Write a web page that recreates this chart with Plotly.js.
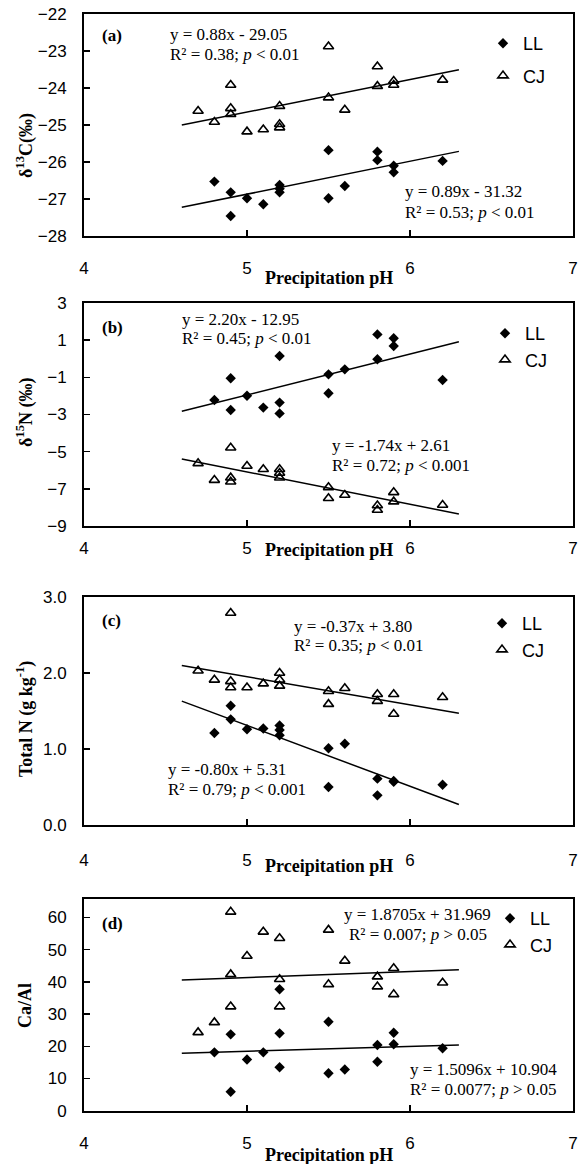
<!DOCTYPE html>
<html><head><meta charset="utf-8">
<script src="https://cdn.plot.ly/plotly-3.0.1.min.js"></script>
<style>html,body{margin:0;padding:0;background:#fff}#chart{width:582px;height:1164px}</style>
</head><body><div id="chart"></div>
<script>
// ---- data ----
const seriesNames = ['LL', 'CJ'];
const xTicks = [4, 5, 6, 7];
const phLL = [4.8, 4.9, 4.9, 5.0, 5.1, 5.2, 5.2, 5.2, 5.5, 5.5, 5.6, 5.8, 5.8, 5.9, 5.9, 6.2];
const phCJ = [4.7, 4.8, 4.9, 4.9, 4.9, 5.0, 5.1, 5.2, 5.2, 5.2, 5.5, 5.5, 5.6, 5.8, 5.8, 5.9, 5.9, 6.2];

const d13C_LL = [-26.53, -26.82, -27.46, -26.98, -27.14, -26.62, -26.72, -26.82, -25.68, -26.98, -26.65, -25.72, -25.95, -26.10, -26.28, -25.97];
const d13C_CJ = [-24.62, -24.92, -23.92, -24.55, -24.71, -25.18, -25.12, -24.49, -24.98, -25.07, -22.88, -24.26, -24.59, -23.42, -23.95, -23.81, -23.92, -23.78];

const d15N_LL = [-2.22, -1.05, -2.76, -1.99, -2.63, 0.15, -2.36, -2.94, -0.84, -1.86, -0.57, 1.31, -0.03, 1.10, 0.69, -1.14];
const d15N_CJ = [-5.63, -6.53, -4.79, -6.40, -6.62, -5.77, -5.95, -5.95, -6.15, -6.40, -6.92, -7.51, -7.33, -7.90, -8.14, -7.19, -7.69, -7.87];

const totalN_LL = [1.21, 1.57, 1.39, 1.26, 1.27, 1.31, 1.25, 1.18, 1.01, 0.50, 1.07, 0.61, 0.39, 0.57, 0.58, 0.53];
const totalN_CJ = [2.03, 1.91, 2.79, 1.89, 1.81, 1.81, 1.86, 2.00, 1.91, 1.83, 1.76, 1.59, 1.80, 1.72, 1.63, 1.72, 1.46, 1.68];

const caAl_LL = [18.1, 23.7, 5.9, 15.9, 18.1, 37.7, 24.0, 13.5, 27.6, 11.6, 12.8, 20.4, 15.2, 24.2, 20.6, 19.4];
const caAl_CJ = [24.3, 27.4, 61.7, 42.3, 32.3, 48.0, 55.5, 53.5, 40.8, 32.3, 56.1, 39.2, 46.5, 41.6, 38.5, 44.2, 36.1, 39.7];

// regression fits (slope, intercept) as printed on the chart, drawn over pH 4.6–6.3
const fitRange = [4.6, 6.3];
const fitLL = [[0.89, -31.32], [2.20, -12.95], [-0.80, 5.31], [1.5096, 10.904]];
const fitCJ = [[0.88, -29.05], [-1.74, 2.61], [-0.37, 3.80], [1.8705, 31.969]];

const panelLabels = ['(a)', '(b)', '(c)', '(d)'];
const yTitles = ['δ<sup>13</sup>C(‰)', 'δ<sup>15</sup>N (‰)', 'Total N (g kg<sup>-1</sup>)', 'Ca/Al'];
const xTitles = ['Precipitation pH', 'Precipitation pH', 'Prceipitation pH', 'Precipitation pH'];
const eqLL = [['y = 0.89x - 31.32', 'R² = 0.53; <i>p</i> &lt; 0.01'],
              ['y = 2.20x - 12.95', 'R² = 0.45; <i>p</i> &lt; 0.01'],
              ['y = -0.80x + 5.31', 'R² = 0.79; <i>p</i> &lt; 0.001'],
              ['y = 1.5096x + 10.904', 'R² = 0.0077; <i>p</i> &gt; 0.05']];
const eqCJ = [['y = 0.88x - 29.05', 'R² = 0.38; <i>p</i> &lt; 0.01'],
              ['y = -1.74x + 2.61', 'R² = 0.72; <i>p</i> &lt; 0.001'],
              ['y = -0.37x + 3.80', 'R² = 0.35; <i>p</i> &lt; 0.01'],
              ['y = 1.8705x + 31.969', 'R² = 0.007; <i>p</i> &gt; 0.05']];

const valuesLL = [d13C_LL, d15N_LL, totalN_LL, caAl_LL];
const valuesCJ = [d13C_CJ, d15N_CJ, totalN_CJ, caAl_CJ];

// ---- layout geometry (pixels) ----
const W = 582, H = 1164;
const SERIF = 'Liberation Serif, Times New Roman, serif';
const SANS = 'Liberation Sans, Arial, Helvetica, sans-serif';
const frames = [[14, 236], [303, 526], [597, 825], [899.3, 1110.7]];
const yRanges = [[-28, -22], [-9, 3], [0, 3], [0, 65.6]];
const yDticks = [1, 2, 1, 10];
const yTick0 = [-28, -9, 0, 0];
const yFormats = ['', '', '.1f', ''];
const xStandoff = [16, 6, 19, 16];
const xTitleY = [278, 550, 866, 1155];
const yTitleY = [146, 413, 719, 1006];
const labelY = [35, 327, 620, 923];
const eqCJpos = [[168, 34, 168, 54], [330, 446, 330, 465], [292, 626, 292, 645], [342, 914, 347, 934]];
const eqLLpos = [[403, 192, 403, 212], [180, 319, 180, 338], [166, 769, 166, 789], [408, 1069, 408, 1089]];
const legendTop = [25, 315, 605, 900];
const legendX = [483, 485, 482, 490];
const legendGap = [6, 0, 0, 0];

const px = v => v / W, py = v => 1 - v / H;

const data = [];
const layout = {
  width: W, height: H,
  margin: {l: 0, r: 0, t: 0, b: 0},
  paper_bgcolor: '#fff', plot_bgcolor: '#fff',
  showlegend: true,
  annotations: []
};

function ann(text, x, y, font, extra) {
  return Object.assign({xref: 'paper', yref: 'paper', x: px(x), y: py(y), xanchor: 'left', yanchor: 'middle',
    showarrow: false, text: text, font: Object.assign({family: SERIF, size: 17, color: '#000'}, font || {})}, extra || {});
}

for (let i = 0; i < 4; i++) {
  const n = i === 0 ? '' : String(i + 1);
  const xa = 'x' + n, ya = 'y' + n;
  const leg = 'legend' + n;
  data.push({
    type: 'scatter', mode: 'markers', x: phLL, y: valuesLL[i], xaxis: xa, yaxis: ya,
    name: seriesNames[0], legend: leg, legendgroup: 'll' + i,
    marker: {symbol: 'diamond', size: 8, color: '#000'}
  });
  data.push({
    type: 'scatter', mode: 'markers', x: phCJ, y: valuesCJ[i], xaxis: xa, yaxis: ya,
    name: seriesNames[1], legend: leg, legendgroup: 'cj' + i,
    marker: {symbol: 'triangle-up-open', size: 9, color: '#000', line: {width: 1.6, color: '#000'}}
  });
  [fitLL[i], fitCJ[i]].forEach(f => {
    data.push({
      type: 'scatter', mode: 'lines', x: fitRange, y: fitRange.map(v => f[0] * v + f[1]),
      xaxis: xa, yaxis: ya, showlegend: false, hoverinfo: 'skip',
      line: {color: '#000', width: 1.5}
    });
  });

  const fr = frames[i];
  layout['xaxis' + n] = {
    domain: [px(84), px(573)], anchor: ya, range: [4, 7], tickvals: xTicks,
    ticks: 'inside', ticklen: 6, tickwidth: 1.5, tickcolor: '#000',
    showline: true, linecolor: '#000', linewidth: 2, mirror: true,
    showgrid: false, zeroline: false, ticklabelstandoff: xStandoff[i],
    tickfont: {family: SANS, size: 17, color: '#000'}
  };
  layout['yaxis' + n] = {
    domain: [py(fr[1]), py(fr[0])], anchor: xa, range: yRanges[i],
    tick0: yTick0[i], dtick: yDticks[i], tickformat: yFormats[i],
    ticks: 'inside', ticklen: 6, tickwidth: 1.5, tickcolor: '#000',
    showline: true, linecolor: '#000', linewidth: 2, mirror: true,
    showgrid: false, zeroline: false, ticklabelstandoff: 12,
    tickfont: {family: SANS, size: 17, color: '#000'}
  };
  layout[leg] = {
    x: px(legendX[i]), y: py(legendTop[i]), xanchor: 'left', yanchor: 'top',
    bgcolor: 'rgba(0,0,0,0)', borderwidth: 0, tracegroupgap: legendGap[i],
    font: {family: SANS, size: 18, color: '#000'}
  };

  layout.annotations.push(ann('<b>' + panelLabels[i] + '</b>', 100, labelY[i]));
  layout.annotations.push(ann(eqCJ[i][0], eqCJpos[i][0], eqCJpos[i][1]));
  layout.annotations.push(ann(eqCJ[i][1], eqCJpos[i][2], eqCJpos[i][3]));
  layout.annotations.push(ann(eqLL[i][0], eqLLpos[i][0], eqLLpos[i][1]));
  layout.annotations.push(ann(eqLL[i][1], eqLLpos[i][2], eqLLpos[i][3]));
  layout.annotations.push(ann('<b>' + xTitles[i] + '</b>', 329, xTitleY[i], {size: 18}, {xanchor: 'center'}));
  layout.annotations.push(ann('<b>' + yTitles[i] + '</b>', 25, yTitleY[i], {size: 18}, {xanchor: 'center', textangle: -90}));
}

Plotly.newPlot('chart', data, layout, {staticPlot: true, displayModeBar: false});
</script>
</body></html>
